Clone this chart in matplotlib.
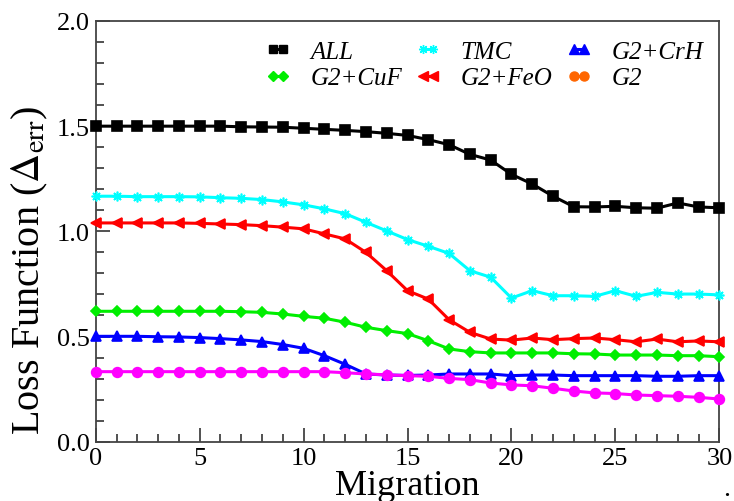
import matplotlib
matplotlib.use("Agg")
import matplotlib.pyplot as plt
from matplotlib.lines import Line2D
from matplotlib.ticker import MultipleLocator

plt.rcParams["font.family"] = ["Liberation Serif", "DejaVu Serif"]
plt.rcParams["mathtext.fontset"] = "stix"

migration = list(range(31))

loss_all = [1.50, 1.50, 1.50, 1.50, 1.50, 1.50, 1.50, 1.497, 1.496, 1.495,
            1.490, 1.485, 1.480, 1.474, 1.466, 1.456, 1.436, 1.412, 1.366, 1.339,
            1.271, 1.225, 1.167, 1.117, 1.116, 1.119, 1.112, 1.110, 1.135, 1.116,
            1.112]
loss_tmc = [1.167, 1.167, 1.165, 1.165, 1.165, 1.164, 1.160, 1.157, 1.151, 1.140,
            1.126, 1.107, 1.084, 1.043, 1.002, 0.961, 0.929, 0.895, 0.813, 0.782,
            0.683, 0.718, 0.694, 0.694, 0.691, 0.718, 0.691, 0.710, 0.702, 0.702,
            0.698]
loss_crh = [0.501, 0.501, 0.501, 0.499, 0.498, 0.495, 0.490, 0.484, 0.476, 0.462,
            0.444, 0.409, 0.368, 0.322, 0.317, 0.315, 0.317, 0.322, 0.322, 0.322,
            0.314, 0.317, 0.317, 0.314, 0.314, 0.314, 0.314, 0.311, 0.311, 0.314,
            0.314]
loss_cuf = [0.620, 0.620, 0.620, 0.620, 0.620, 0.620, 0.620, 0.618, 0.615, 0.607,
            0.596, 0.587, 0.568, 0.544, 0.528, 0.514, 0.480, 0.441, 0.428, 0.422,
            0.422, 0.422, 0.422, 0.418, 0.417, 0.412, 0.412, 0.412, 0.409, 0.409,
            0.404]
loss_feo = [1.040, 1.040, 1.040, 1.040, 1.040, 1.038, 1.035, 1.032, 1.027, 1.020,
            1.012, 0.988, 0.964, 0.900, 0.813, 0.718, 0.678, 0.580, 0.520, 0.488,
            0.483, 0.493, 0.485, 0.490, 0.493, 0.485, 0.475, 0.488, 0.475, 0.479,
            0.475]
loss_g2 = [0.333, 0.333, 0.333, 0.333, 0.333, 0.333, 0.333, 0.333, 0.333, 0.333,
           0.333, 0.333, 0.328, 0.322, 0.318, 0.314, 0.311, 0.301, 0.295, 0.279,
           0.270, 0.266, 0.254, 0.241, 0.232, 0.229, 0.222, 0.219, 0.216, 0.211,
           0.203]

labels = ["ALL", "TMC", "G2+CrH", "G2+CuF", "G2+FeO", "G2"]
series = [loss_all, loss_tmc, loss_crh, loss_cuf, loss_feo, loss_g2]
line_colors = ["#000000", "#00ffff", "#0000ff", "#00ee00", "#ff0000", "#ff00ff"]
legend_colors = ["#000000", "#00ffff", "#0000ff", "#00ee00", "#ff0000", "#ff6600"]
markers = ["s", (8, 2, 0), "^", "D", "<", "o"]
msizes = [6.5, 7, 7, 5.5, 7, 7]

fig = plt.figure(figsize=(7.34, 5.02), dpi=100)
ax = fig.add_axes([0.1304, 0.1181, 0.8496, 0.8381])

for y, c, m, ms in zip(series, line_colors, markers, msizes):
    ax.plot(migration, y, color=c, marker=m, markersize=ms, lw=2.2,
            markeredgewidth=1.2, markeredgecolor=c, clip_on=False, zorder=3)

ax.set_xlim(0, 30)
ax.set_ylim(0, 2.0)
ax.xaxis.set_major_locator(MultipleLocator(5))
ax.xaxis.set_minor_locator(MultipleLocator(1))
ax.yaxis.set_major_locator(MultipleLocator(0.5))
ax.yaxis.set_minor_locator(MultipleLocator(0.1))
ax.yaxis.set_major_formatter(plt.FormatStrFormatter("%.1f"))
ax.tick_params(which="both", direction="in", top=False, right=False,
               width=1.2, colors="#333333", labelcolor="black", labelsize=19, pad=4)
ax.tick_params(which="major", length=10)
ax.tick_params(which="minor", length=6)
for s in ax.spines.values():
    s.set_linewidth(1.3)
    s.set_color("#444444")

ax.set_xlabel("Migration", fontsize=26, labelpad=0)
ax.set_ylabel(r"Loss Function ($\Delta_{\rm err}$)", fontsize=29)
ax.yaxis.set_label_coords(-0.074, 0.41)

# legend order: columns filled top to bottom
order = [0, 3, 1, 4, 2, 5]
handles = [Line2D([0], [0], color=legend_colors[i], marker=markers[i],
                  markersize=msizes[i] - 0.5, lw=2.2, markeredgecolor=legend_colors[i])
           for i in order]
leg = ax.legend(handles, [labels[i] for i in order], ncol=3, frameon=False,
                loc="upper right", bbox_to_anchor=(1.01, 1.007), numpoints=2,
                handlelength=1.0, handletextpad=0.8, columnspacing=0.55,
                labelspacing=0.15, prop={"size": 18, "style": "italic"})

fig.text(0.995, 0.0, ".", fontsize=20, ha="right", va="bottom")

fig.savefig("out.png", dpi=100)
